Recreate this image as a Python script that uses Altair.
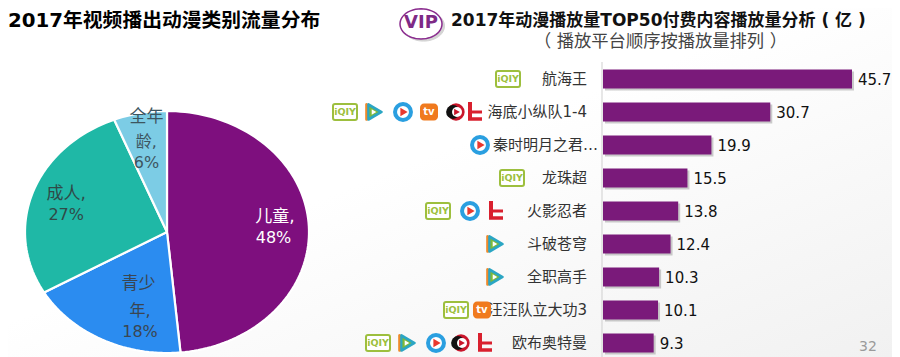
import math
import altair as alt
import pandas as pd

# ---------- data ----------
pie_names = ["儿童", "青少年", "成人", "全年龄"]
pie_values = [48, 18, 27, 6]
pie_colors = ["#7E0F7E", "#2B8CF0", "#1FB8A6", "#7CCCE5"]

# label lines of the pie, placed on the pie's own [-1, 1] scales
pie_lines = ["儿童,", "48%", "青少", "年,", "18%", "成人,", "27%", "全年", "龄,", "6%"]
pie_line_x = [0.76, 0.75, -0.20, -0.19, -0.19, -0.71, -0.71, -0.145, -0.145, -0.145]
pie_line_y = [0.12, -0.05, -0.43, -0.65, -0.83, 0.31, 0.14, 0.95, 0.74, 0.57]
pie_line_size = [17, 16, 17, 16, 16, 17, 16, 17, 16, 16]
pie_line_color = ["#FFFFFF", "#FFFFFF", "#3A4652", "#3A4652", "#3A4652", "#2F4A48", "#2F4A48", "#3D5560", "#3D5560", "#3D5560"]

names = ["航海王", "海底小纵队1-4", "秦时明月之君…", "龙珠超", "火影忍者", "斗破苍穹", "全职高手", "汪汪队立大功3", "欧布奥特曼"]
values = [45.7, 30.7, 19.9, 15.5, 13.8, 12.4, 10.3, 10.1, 9.3]
label_right = [587, 587, 598, 587, 587, 587, 587, 587, 587]

iqiy = [("航海王", 508), ("海底小纵队1-4", 345), ("龙珠超", 512), ("火影忍者", 438), ("汪汪队立大功3", 456), ("欧布奥特曼", 378)]
tencent = [("海底小纵队1-4", 375), ("斗破苍穹", 496), ("全职高手", 496), ("欧布奥特曼", 408)]
youku = [("海底小纵队1-4", 403), ("秦时明月之君…", 480), ("火影忍者", 470), ("欧布奥特曼", 436)]
mgtv = [("海底小纵队1-4", 429), ("汪汪队立大功3", 482)]
pptv = [("海底小纵队1-4", 456), ("欧布奥特曼", 461)]
letv = [("海底小纵队1-4", 475), ("火影忍者", 496), ("欧布奥特曼", 485)]

FONT = "DejaVu Sans, Noto Sans CJK SC"

# ---------- scales ----------
PX = alt.Scale(domain=[8, 900], range=[0, 892])
BAR_X = alt.Scale(domain=[0, 45.7], range=[595, 844])
ROW_Y = alt.Scale(type="band", domain=names, range=[54.5, 351.5], paddingInner=0.424, paddingOuter=0.212)
PIE_X = alt.Scale(domain=[-1, 1], range=[17, 301])
PIE_Y = alt.Scale(domain=[-1, 1], range=[345, 103])
VIP_X = alt.Scale(domain=[-1, 1], range=[392, 434])
VIP_Y = alt.Scale(domain=[-1, 1], range=[31, 0.8])


def page_text(text, x, y, size, color="#000000", weight="normal", align="left"):
    return alt.Chart(pd.DataFrame({"t": [text]})).mark_text(
        font=FONT, fontSize=size, fontWeight=weight, color=color, align=align, baseline="middle"
    ).encode(x=alt.value(x - 8), y=alt.value(y - 8), text="t:N")


def sector(name, frac_start, frac_end, steps):
    pts = [(0.0, 0.0)]
    for i in range(steps + 1):
        a = 2 * math.pi * (frac_start + (frac_end - frac_start) * i / steps)
        pts.append((math.sin(a), math.cos(a)))
    pts.append((0.0, 0.0))
    return [{"cat": name, "k": k, "px": p[0], "py": p[1]} for k, p in enumerate(pts)]


# ---------- pie as an ellipse (the reference is stretched horizontally) ----------
total = sum(pie_values)
rows = []
start = 0.0
for name, value in zip(pie_names, pie_values):
    end = start + value / total
    rows += sector(name, start, end, max(8, int(value * 2)))
    start = end

pie = alt.Chart(pd.DataFrame(rows)).mark_line(stroke="white", strokeWidth=2.2, strokeJoin="round").encode(
    x=alt.X("px:Q", scale=PIE_X, axis=None),
    y=alt.Y("py:Q", scale=PIE_Y, axis=None),
    order="k:Q",
    fill=alt.Fill("cat:N", scale=alt.Scale(domain=pie_names, range=pie_colors), legend=None),
)
pie_labels = alt.Chart(pd.DataFrame({
    "t": pie_lines, "lx": pie_line_x, "ly": pie_line_y, "c": pie_line_color, "s": pie_line_size
})).mark_text(font=FONT, align="center", baseline="middle").encode(
    x=alt.X("lx:Q", scale=PIE_X, axis=None),
    y=alt.Y("ly:Q", scale=PIE_Y, axis=None),
    text="t:N",
    color=alt.Color("c:N", scale=None),
    size=alt.Size("s:Q", scale=None),
)

# ---------- bars ----------
bar_df = pd.DataFrame({"name": names, "value": values, "rx": label_right})
bar_y = alt.Y("name:N", scale=ROW_Y, axis=None)
bar_x = alt.X("value:Q", scale=BAR_X, axis=None)
shadow = alt.Chart(bar_df).mark_bar(color="#8F8F8F", opacity=0.45, xOffset=2, yOffset=2).encode(x=bar_x, y=bar_y)
bars = alt.Chart(bar_df).mark_bar(color="#7A1A7A").encode(x=bar_x, y=bar_y)
bar_text = alt.Chart(bar_df).mark_text(
    font=FONT, fontSize=15, color="#111111", align="left", baseline="middle", dx=6, dy=1
).encode(x=bar_x, y=bar_y, text=alt.Text("value:Q", format=".1f"))
cat_text = alt.Chart(bar_df).mark_text(
    font=FONT, fontSize=15, color="#333333", align="right", baseline="middle"
).encode(x=alt.X("rx:Q", scale=PX, axis=None), y=bar_y, text="name:N")
axis_line = alt.Chart(pd.DataFrame({"a": [0]})).mark_rule(color="#CFCFCF", strokeWidth=1).encode(
    x=alt.value(594), y=alt.value(54), y2=alt.value(349)
)


# ---------- platform icons ----------
def icon_df(items, dx=0):
    return pd.DataFrame({"name": [n for n, _ in items], "ix": [x + dx for _, x in items]})


def enc(chart):
    return chart.encode(x=alt.X("ix:Q", scale=PX, axis=None), y=bar_y)


def dot(items, shape, size, fill, dx=0, stroke=None, sw=0):
    kw = dict(shape=shape, size=size, fill=fill, filled=True, opacity=1, strokeWidth=sw, strokeJoin="round")
    if stroke:
        kw["stroke"] = stroke
    else:
        kw["strokeOpacity"] = 0
    return enc(alt.Chart(icon_df(items, dx)).mark_point(**kw))


def glyph(items, text, size, color, dx=0, dy=0):
    return enc(alt.Chart(icon_df(items, dx)).mark_text(
        text=text, font="DejaVu Sans", fontWeight="bold", fontSize=size, color=color,
        align="center", baseline="middle", dy=dy
    ))


def block(items, w, h, color, dx=0, dy=0):
    return enc(alt.Chart(icon_df(items, dx)).mark_rect(width=w, height=h, color=color, yOffset=dy))


GREEN = "#9DBF3E"
RED = "#D9202E"
icon_layers = [
    enc(alt.Chart(icon_df(iqiy)).mark_rect(width=24, height=16, cornerRadius=2, fill="#FFFFFF", stroke=GREEN, strokeWidth=2)),
    glyph(iqiy, "iQIY", 9.5, GREEN),
    dot(tencent, "triangle-right", 230, "#EE8A2B", dx=-2, stroke="#EE8A2B", sw=2.5),
    dot(tencent, "triangle-right", 230, "#2BA6C4", dx=0, stroke="#2BA6C4", sw=2.5),
    dot(tencent, "triangle-right", 110, "#7DB83A", dx=-1),
    dot(tencent, "triangle-right", 28, "#FFFFFF", dx=-1),
    dot(youku, "circle", 254, "#FFFFFF", stroke="#2A9FE0", sw=4),
    dot(youku, "triangle-right", 70, "#E8382E", dx=1),
    enc(alt.Chart(icon_df(mgtv)).mark_rect(width=18, height=17, cornerRadius=4, fill="#F07A1E")),
    glyph(mgtv, "tv", 10, "#FFFFFF"),
    dot(pptv, "circle", 300, "#C9162B"),
    dot(pptv, "circle", 190, "#111111", dx=-3),
    dot(pptv, "circle", 100, "#FFFFFF", dx=1),
    dot(pptv, "triangle-right", 45, "#C9162B", dx=1),
    block(letv, 4, 18, RED, dx=-5, dy=-1),
    block(letv, 14, 3.5, RED, dx=0, dy=7),
    block(letv, 10, 3, RED, dx=2, dy=0),
]

# ---------- background, titles, VIP badge ----------
background = alt.Chart(pd.DataFrame({"a": [0]})).mark_rect(color=alt.LinearGradient(
    gradient="linear",
    stops=[alt.GradientStop(offset=0.45, color="#FFFFFF"), alt.GradientStop(offset=1, color="#F1F1F1")],
    x1=0, y1=0, x2=1, y2=1,
)).encode(x=alt.value(0), x2=alt.value(884), y=alt.value(0), y2=alt.value(349))

vip_rows = sector("vip", 0, 1, 48)
vip_shadow = alt.Chart(pd.DataFrame(vip_rows[1:-1]).assign(px=lambda d: d.px + 0.12, py=lambda d: d.py - 0.14)).mark_line(
    fill="#D4D4D4", stroke="#D4D4D4", strokeWidth=1
).encode(
    x=alt.X("px:Q", scale=VIP_X, axis=None), y=alt.Y("py:Q", scale=VIP_Y, axis=None), order="k:Q"
)
vip_ring = alt.Chart(pd.DataFrame(vip_rows[1:-1])).mark_line(
    fill="#FFFFFF", stroke="#8A2C8E", strokeWidth=1.5
).encode(
    x=alt.X("px:Q", scale=VIP_X, axis=None), y=alt.Y("py:Q", scale=VIP_Y, axis=None), order="k:Q"
)

chart = alt.layer(
    background,
    pie,
    pie_labels,
    axis_line,
    shadow,
    bars,
    bar_text,
    cat_text,
    *icon_layers,
    vip_shadow,
    vip_ring,
    page_text("VIP", 421, 23, 18, "#7E2A86", "bold", "center"),
    page_text("2017年视频播出动漫类别流量分布", 8, 21, 19.8, "#000000", "bold"),
    page_text("2017年动漫播放量TOP50付费内容播放量分析 ( 亿 )", 451, 21, 17.0, "#111111", "bold"),
    page_text("（ 播放平台顺序按播放量排列 ）", 534, 42, 17.3, "#444444"),
    page_text("32", 868, 347, 14, "#9A9A9A", "normal", "center"),
).resolve_scale(x="independent", y="independent", fill="independent", color="independent").properties(
    width=884,
    height=349,
    padding=0,
    autosize=alt.AutoSizeParams(type="none", contains="padding"),
    background="#FFFFFF",
).configure_view(stroke=None)

chart.save("out.html", embed_options={"renderer": "svg", "actions": False})
